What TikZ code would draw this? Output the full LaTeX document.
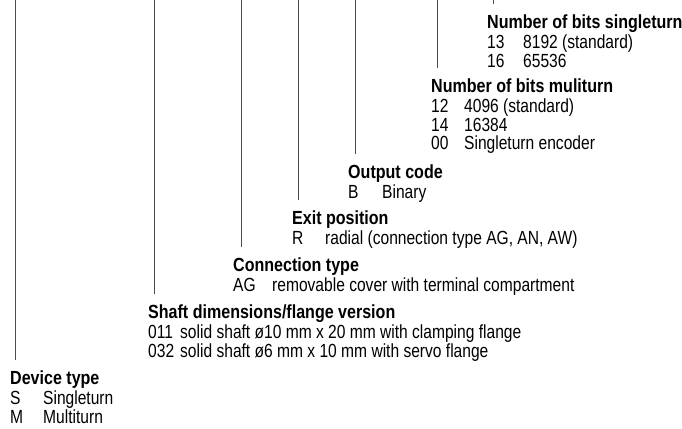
\documentclass[tikz,border=0pt]{standalone}
\usepackage{fontspec}
\setmainfont{Liberation Sans}[FakeStretch=0.82,BoldFeatures={FakeStretch=0.845}]
\usetikzlibrary{calc}
\newcommand{\keyno}[2][33pt]{\makebox[#1][l]{#2}}

\begin{document}
\begin{tikzpicture}[
    x=1pt, y=-1pt,
    codeblock/.style={anchor=north west, inner sep=0pt, align=left, font=\fontsize{19}{18.5}\selectfont},
    leader/.style={draw=black!70, line width=0.9pt}
]
\useasboundingbox (0,0) rectangle (682,428);
\coordinate (edge) at (0,0);

% Number of bits singleturn
\node[codeblock] (single) at (487,14.3) {{\bfseries Number of bits singleturn}\\[2pt]
    \keyno[36pt]{13}8192 (standard)\\
    \keyno[36pt]{16}65536};

% Number of bits multiturn
\node[codeblock] (multi) at (431,78.3) {{\bfseries Number of bits muliturn}\\[2pt]
    \keyno{12}4096 (standard)\\
    \keyno{14}16384\\
    \keyno{00}Singleturn encoder};

% Output code
\node[codeblock] (output) at (348,164.3) {{\bfseries Output code}\\[2pt]
    \keyno[34pt]{B}Binary};

% Exit position
\node[codeblock] (exit) at (292,210.3) {{\bfseries Exit position}\\[2pt]
    \keyno{R}radial (connection type AG, AN, AW)};

% Connection type
\node[codeblock] (conn) at (233,257.3) {{\bfseries Connection type}\\[2pt]
    \keyno[39pt]{AG}removable cover with terminal compartment};

% Shaft dimensions
\node[codeblock] (shaft) at (148,304.3) {{\bfseries Shaft dimensions/flange version}\\[2pt]
    \keyno[32pt]{011}solid shaft ø10 mm x 20 mm with clamping flange\\
    \keyno[32pt]{032}solid shaft ø6 mm x 10 mm with servo flange};

% Device type
\node[codeblock] (device) at (10,370.3) {{\bfseries Device type}\\[2pt]
    \keyno{S}Singleturn\\
    \keyno{M}Multiturn};

% Leader lines
\coordinate (single-end) at ([shift={(6,-10)}]single.north west);
\coordinate (multi-end) at ([shift={(6,-10)}]multi.north west);
\coordinate (output-end) at ([shift={(7,-10)}]output.north west);
\coordinate (exit-end) at ([shift={(6,-10)}]exit.north west);
\coordinate (conn-end) at ([shift={(8,-10)}]conn.north west);
\coordinate (shaft-end) at ([shift={(6,-10)}]shaft.north west);
\coordinate (device-end) at ([shift={(5,-10)}]device.north west);
\draw[leader] (single-end |- edge) -- (single-end);
\draw[leader] (multi-end |- edge) -- (multi-end);
\draw[leader] (output-end |- edge) -- (output-end);
\draw[leader] (exit-end |- edge) -- (exit-end);
\draw[leader] (conn-end |- edge) -- (conn-end);
\draw[leader] (shaft-end |- edge) -- (shaft-end);
\draw[leader] (device-end |- edge) -- (device-end);

\end{tikzpicture}
\end{document}
